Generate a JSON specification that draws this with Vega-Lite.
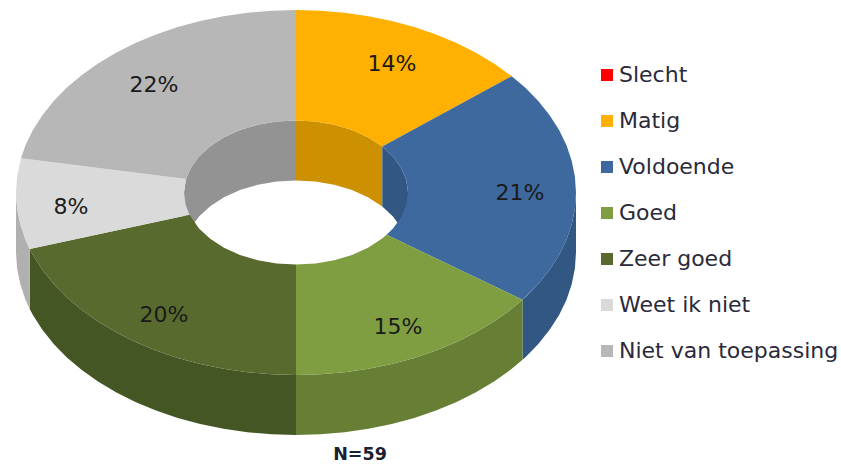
{"$schema":"https://vega.github.io/schema/vega-lite/v6.json","width":841,"height":465,"padding":0,"autosize":"none","background":"white","view":{"stroke":null},"projection":{"type":"identity","reflectY":true,"scale":100,"translate":[296,192.5]},"resolve":{"scale":{"color":"independent"}},"layer":[{"data":{"values":[
{"type":"Feature","properties":{"label":"Voldoende","face":"outer wall"},"geometry":{"type":"Polygon","coordinates":[[[2.8,0],[2.789,-0.159],[2.757,-0.317],[2.705,-0.472],[2.631,-0.624],[2.538,-0.771],[2.425,-0.9125],[2.294,-1.047],[2.265,-1.073],[2.265,-1.673],[2.294,-1.647],[2.425,-1.5125],[2.538,-1.371],[2.631,-1.224],[2.705,-1.072],[2.757,-0.917],[2.789,-0.759],[2.8,-0.6],[2.8,0]]]}},
{"type":"Feature","properties":{"label":"Goed","face":"outer wall"},"geometry":{"type":"Polygon","coordinates":[[[2.265,-1.073],[2.145,-1.173],[1.98,-1.29],[1.8,-1.398],[1.606,-1.495],[1.4,-1.58],[1.183,-1.654],[0.958,-1.715],[0.725,-1.763],[0.486,-1.797],[0.244,-1.818],[0,-1.825],[0,-2.425],[0.244,-2.418],[0.486,-2.397],[0.725,-2.363],[0.958,-2.315],[1.183,-2.254],[1.4,-2.18],[1.606,-2.095],[1.8,-1.998],[1.98,-1.89],[2.145,-1.773],[2.265,-1.673],[2.265,-1.073]]]}},
{"type":"Feature","properties":{"label":"Zeer goed","face":"outer wall"},"geometry":{"type":"Polygon","coordinates":[[[0,-1.825],[-0.244,-1.818],[-0.486,-1.797],[-0.725,-1.763],[-0.958,-1.715],[-1.183,-1.654],[-1.4,-1.58],[-1.606,-1.495],[-1.8,-1.398],[-1.98,-1.29],[-2.145,-1.173],[-2.294,-1.047],[-2.425,-0.9125],[-2.538,-0.771],[-2.631,-0.624],[-2.663,-0.564],[-2.663,-1.164],[-2.631,-1.224],[-2.538,-1.371],[-2.425,-1.5125],[-2.294,-1.647],[-2.145,-1.773],[-1.98,-1.89],[-1.8,-1.998],[-1.606,-2.095],[-1.4,-2.18],[-1.183,-2.254],[-0.958,-2.315],[-0.725,-2.363],[-0.486,-2.397],[-0.244,-2.418],[0,-2.425],[0,-1.825]]]}},
{"type":"Feature","properties":{"label":"Weet ik niet","face":"outer wall"},"geometry":{"type":"Polygon","coordinates":[[[-2.663,-0.564],[-2.705,-0.472],[-2.757,-0.317],[-2.789,-0.159],[-2.8,0],[-2.8,-0.6],[-2.789,-0.759],[-2.757,-0.917],[-2.705,-1.072],[-2.663,-1.164],[-2.663,-0.564]]]}},
{"type":"Feature","properties":{"label":"Matig","face":"inner wall"},"geometry":{"type":"Polygon","coordinates":[[[0,0.72],[0.194,0.709],[0.383,0.677],[0.56,0.624],[0.72,0.552],[0.863,0.459],[0.863,-0.141],[0.72,-0.048],[0.56,0.024],[0.383,0.077],[0.194,0.109],[0,0.12],[0,0.72]]]}},
{"type":"Feature","properties":{"label":"Voldoende","face":"inner wall"},"geometry":{"type":"Polygon","coordinates":[[[0.863,0.459],[0.97,0.36],[1.053,0.246],[1.103,0.125],[1.12,0],[1.12,-0.6],[1.103,-0.475],[1.053,-0.354],[0.97,-0.24],[0.863,-0.141],[0.863,0.459]]]}},
{"type":"Feature","properties":{"label":"Niet van toepassing","face":"inner wall"},"geometry":{"type":"Polygon","coordinates":[[[-1.12,0],[-1.103,0.125],[-1.053,0.246],[-0.97,0.36],[-0.858,0.463],[-0.72,0.552],[-0.56,0.624],[-0.383,0.677],[-0.194,0.709],[0,0.72],[0,0.12],[-0.194,0.109],[-0.383,0.077],[-0.56,0.024],[-0.72,-0.048],[-0.858,-0.137],[-0.97,-0.24],[-1.053,-0.354],[-1.103,-0.475],[-1.12,-0.6],[-1.12,0]]]}}
]},"mark":{"type":"geoshape","strokeWidth":0},"encoding":{"color":{"field":"properties.label","type":"nominal","legend":null,"scale":{"domain":["Matig","Voldoende","Goed","Zeer goed","Weet ik niet","Niet van toepassing"],"range":["#CC9000","#325783","#667F35","#455625","#B0B0B0","#939393"]}}}},
{"data":{"values":[
{"type":"Feature","properties":{"label":"Matig","pct":14},"geometry":{"type":"Polygon","coordinates":[[[0,1.825],[0.244,1.818],[0.486,1.797],[0.725,1.763],[0.958,1.715],[1.183,1.654],[1.4,1.58],[1.606,1.495],[1.8,1.398],[1.98,1.29],[2.157,1.163],[0.863,0.459],[0.72,0.552],[0.56,0.624],[0.383,0.677],[0.194,0.709],[0,0.72],[0,1.825]]]}},
{"type":"Feature","properties":{"label":"Voldoende","pct":21},"geometry":{"type":"Polygon","coordinates":[[[2.157,1.163],[2.294,1.047],[2.425,0.9125],[2.538,0.771],[2.631,0.624],[2.705,0.472],[2.757,0.317],[2.789,0.159],[2.8,0],[2.789,-0.159],[2.757,-0.317],[2.705,-0.472],[2.631,-0.624],[2.538,-0.771],[2.425,-0.9125],[2.265,-1.073],[0.906,-0.423],[0.97,-0.36],[1.053,-0.246],[1.103,-0.125],[1.12,0],[1.103,0.125],[1.053,0.246],[0.97,0.36],[0.863,0.459],[2.157,1.163]]]}},
{"type":"Feature","properties":{"label":"Goed","pct":15},"geometry":{"type":"Polygon","coordinates":[[[2.265,-1.073],[2.145,-1.173],[1.98,-1.29],[1.8,-1.398],[1.606,-1.495],[1.4,-1.58],[1.183,-1.654],[0.958,-1.715],[0.725,-1.763],[0.486,-1.797],[0.244,-1.818],[0,-1.825],[0,-0.72],[0.194,-0.709],[0.383,-0.677],[0.56,-0.624],[0.72,-0.552],[0.858,-0.463],[0.906,-0.423],[2.265,-1.073]]]}},
{"type":"Feature","properties":{"label":"Zeer goed","pct":20},"geometry":{"type":"Polygon","coordinates":[[[0,-1.825],[-0.244,-1.818],[-0.486,-1.797],[-0.725,-1.763],[-0.958,-1.715],[-1.183,-1.654],[-1.4,-1.58],[-1.606,-1.495],[-1.8,-1.398],[-1.98,-1.29],[-2.145,-1.173],[-2.294,-1.047],[-2.425,-0.9125],[-2.538,-0.771],[-2.631,-0.624],[-2.663,-0.564],[-1.065,-0.222],[-0.97,-0.36],[-0.858,-0.463],[-0.72,-0.552],[-0.56,-0.624],[-0.383,-0.677],[-0.194,-0.709],[0,-0.72],[0,-1.825]]]}},
{"type":"Feature","properties":{"label":"Weet ik niet","pct":8},"geometry":{"type":"Polygon","coordinates":[[[-2.663,-0.564],[-2.705,-0.472],[-2.757,-0.317],[-2.789,-0.159],[-2.8,0],[-2.789,0.159],[-2.75,0.342],[-1.1,0.135],[-1.12,0],[-1.103,-0.125],[-1.065,-0.222],[-2.663,-0.564]]]}},
{"type":"Feature","properties":{"label":"Niet van toepassing","pct":22},"geometry":{"type":"Polygon","coordinates":[[[-2.75,0.342],[-2.705,0.472],[-2.631,0.624],[-2.538,0.771],[-2.425,0.9125],[-2.294,1.047],[-2.145,1.173],[-1.98,1.29],[-1.8,1.398],[-1.606,1.495],[-1.4,1.58],[-1.183,1.654],[-0.958,1.715],[-0.725,1.763],[-0.486,1.797],[-0.244,1.818],[0,1.825],[0,0.72],[-0.194,0.709],[-0.383,0.677],[-0.56,0.624],[-0.72,0.552],[-0.858,0.463],[-0.97,0.36],[-1.053,0.246],[-1.1,0.135],[-2.75,0.342]]]}}
]},"mark":{"type":"geoshape","strokeWidth":0},"encoding":{"color":{"field":"properties.label","type":"nominal","scale":{"domain":["Slecht","Matig","Voldoende","Goed","Zeer goed","Weet ik niet","Niet van toepassing"],"range":["#FF0000","#FFB000","#3D699E","#7F9E41","#586A2E","#DADADA","#B7B7B7"]},"legend":{"title":null,"orient":"none","legendX":596,"legendY":64,"symbolType":"square","symbolSize":144,"symbolStrokeWidth":0,"labelFont":"DejaVu Sans","labelFontSize":22,"labelColor":"#2a2a3a","labelLimit":260,"rowPadding":24,"labelOffset":1,"padding":0,"symbolOpacity":1}}}},
{"data":{"values":[{"pct":"14%","lon":0.96,"lat":1.285},{"pct":"21%","lon":2.24,"lat":-0.005},{"pct":"15%","lon":1.02,"lat":-1.345},{"pct":"20%","lon":-1.32,"lat":-1.225},{"pct":"8%","lon":-2.25,"lat":-0.145},{"pct":"22%","lon":-1.42,"lat":1.075}]},"mark":{"type":"text","font":"DejaVu Sans","fontSize":22,"color":"#1a1a1a","align":"center","baseline":"middle"},"encoding":{"longitude":{"field":"lon","type":"quantitative"},"latitude":{"field":"lat","type":"quantitative"},"text":{"field":"pct","type":"nominal"}}},
{"data":{"values":[{"note":"N=59","lon":0.64,"lat":-2.625}]},"mark":{"type":"text","font":"DejaVu Sans","fontWeight":"bold","fontSize":17.5,"color":"#1a2030","align":"center","baseline":"middle"},"encoding":{"longitude":{"field":"lon","type":"quantitative"},"latitude":{"field":"lat","type":"quantitative"},"text":{"field":"note","type":"nominal"}}}
]}
